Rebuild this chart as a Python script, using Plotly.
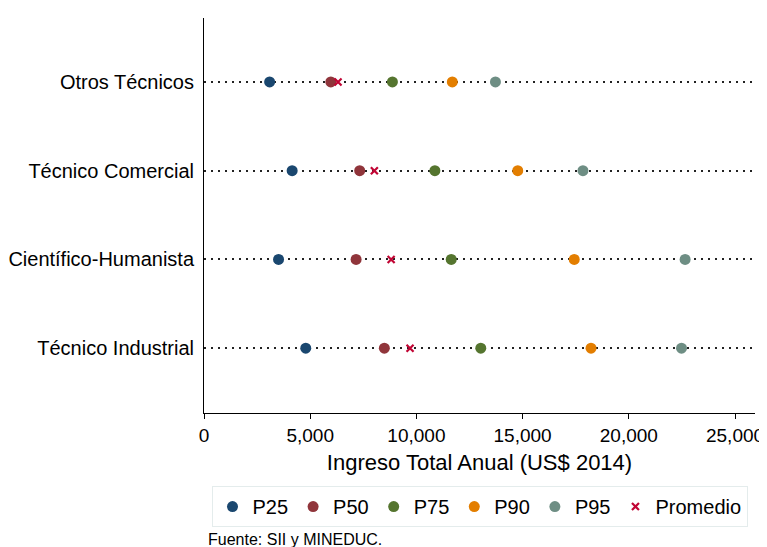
import plotly.graph_objects as go

categories = ["Técnico Industrial", "Científico-Humanista", "Técnico Comercial", "Otros Técnicos"]
p25 = [4790, 3510, 4150, 3090]
p50 = [8490, 7160, 7330, 5970]
p75 = [13030, 11640, 10870, 8870]
p90 = [18220, 17430, 14770, 11690]
p95 = [22480, 22650, 17840, 13720]
promedio = [9700, 8810, 8020, 6310]

series = [
    ("P25", p25, "#1a476f"),
    ("P50", p50, "#90353b"),
    ("P75", p75, "#55752f"),
    ("P90", p90, "#e37e00"),
    ("P95", p95, "#6e8e84"),
]

ypos = list(range(len(categories)))
fig = go.Figure()
for name, vals, col in series:
    fig.add_trace(go.Scatter(x=vals, y=ypos, mode="markers", name=name,
                             marker=dict(symbol="circle", size=11, color=col)))
fig.add_trace(go.Scatter(x=promedio, y=ypos, mode="markers", name="Promedio",
                         marker=dict(symbol="x-thin", size=7, color="#c10534",
                                     line=dict(width=2.2, color="#c10534"))))

font = "Liberation Sans, Arial, sans-serif"
fig.update_layout(
    width=759, height=539,
    margin=dict(l=196, r=12, t=10, b=134, autoexpand=False),
    plot_bgcolor="white", paper_bgcolor="white",
    font=dict(family=font, color="black"),
    showlegend=True,
    legend=dict(orientation="h", x=0.5, xanchor="center", y=-0.185, yanchor="top",
                bordercolor="#e4ecec", borderwidth=1, font=dict(size=20),
                itemwidth=30, tracegroupgap=0),
    xaxis=dict(range=[0, 25940], tickvals=[0, 5000, 10000, 15000, 20000, 25000],
               ticktext=["0", "5,000", "10,000", "15,000", "20,000", "25,000"],
               automargin=False,
               showgrid=False, zeroline=False, showline=True, linecolor="black", linewidth=1,
               ticks="outside", ticklen=5, tickcolor="black", tickfont=dict(size=19),
               title=dict(text="Ingreso Total Anual (US$ 2014)", font=dict(size=22), standoff=9)),
    yaxis=dict(range=[-0.73, 3.72], tickvals=ypos, ticktext=categories,
               automargin=False,
               showgrid=True, gridcolor="#222222", griddash="1.5px,5.5px", gridwidth=1.5,
               zeroline=False, showline=True, linecolor="black", linewidth=1,
               ticks="", ticklabelstandoff=5, tickfont=dict(size=20)),
    annotations=[dict(text="Fuente: SII y MINEDUC.", xref="paper", yref="paper",
                      x=0.0, y=-0.32, xanchor="left", yanchor="middle", showarrow=False,
                      xshift=2, font=dict(size=16))],
)
fig.write_html("out.html")
